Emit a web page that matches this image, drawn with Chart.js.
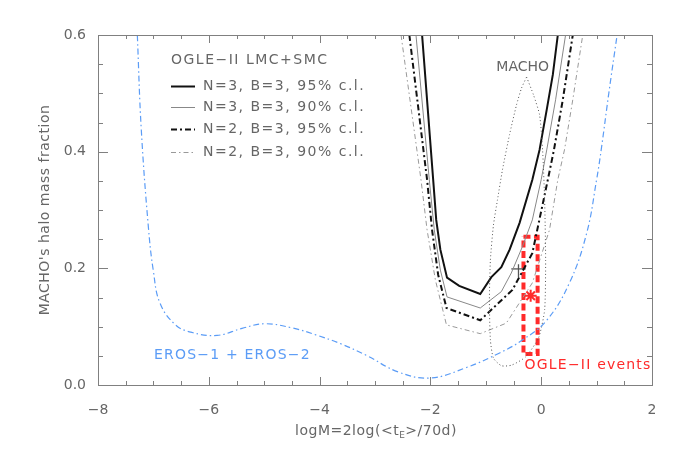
<!DOCTYPE html>
<html lang="en">
<head>
<meta charset="utf-8">
<title>MACHO halo mass fraction</title>
<script src="https://cdn.jsdelivr.net/npm/chart.js"></script>
<style>
  html, body { margin: 0; padding: 0; background: #fff; }
  #wrap { width: 681px; height: 454px; }
</style>
</head>
<body>
<div id="wrap"><canvas id="massChart"></canvas></div>
<script>
// values: x = logM, y = halo mass fraction
const n3b3_95_x = [-2.15, -1.95, -1.895, -1.82, -1.70, -1.48, -1.10, -0.90, -0.72, -0.57, -0.39, -0.16, -0.03, 0.10, 0.21, 0.30];
const n3b3_95_y = [0.60, 0.352, 0.283, 0.232, 0.184, 0.170, 0.156, 0.185, 0.202, 0.232, 0.278, 0.352, 0.403, 0.472, 0.532, 0.60];

const n3b3_90_x = [-2.26, -2.02, -1.93, -1.82, -1.70, -1.10, -0.72, -0.54, -0.34, -0.16, 0.00, 0.10, 0.26, 0.44];
const n3b3_90_y = [0.60, 0.352, 0.266, 0.197, 0.151, 0.132, 0.160, 0.192, 0.237, 0.283, 0.352, 0.403, 0.489, 0.60];

const n2b3_95_x = [-2.38, -2.06, -1.97, -1.86, -1.71, -1.10, -0.90, -0.52, -0.16, 0.12, 0.23, 0.39, 0.57];
const n2b3_95_y = [0.60, 0.352, 0.266, 0.189, 0.132, 0.111, 0.129, 0.163, 0.226, 0.352, 0.403, 0.489, 0.60];

const n2b3_90_x = [-2.53, -2.17, -2.06, -1.91, -1.71, -1.10, -0.63, -0.16, 0.15, 0.30, 0.42, 0.57, 0.75];
const n2b3_90_y = [0.60, 0.352, 0.266, 0.180, 0.103, 0.088, 0.106, 0.175, 0.266, 0.352, 0.403, 0.489, 0.60];

const eros_x = [-7.29, -7.22, -7.09, -7.00, -6.88, -6.60, -6.30, -5.85, -5.40, -5.00, -4.50, -4.07, -3.60, -3.16, -2.57, -2.00, -1.35, -0.75, -0.34, 0.10, 0.51, 0.82, 1.00, 1.09, 1.22, 1.37];
const eros_y = [0.60, 0.44, 0.27, 0.195, 0.14, 0.103, 0.09, 0.085, 0.097, 0.105, 0.098, 0.086, 0.07, 0.051, 0.022, 0.012, 0.03, 0.055, 0.077, 0.111, 0.175, 0.26, 0.352, 0.408, 0.50, 0.60];

// MACHO contour, traced clockwise from the top
const macho_x = [-0.264, -0.138, -0.029, 0.025, 0.062, 0.080, 0.062, -0.047, -0.283, -0.536, -0.717, -0.862, -0.917, -0.935, -0.917, -0.862, -0.790, -0.699, -0.572, -0.446, -0.355, -0.264];
const macho_y = [0.528, 0.497, 0.463, 0.403, 0.317, 0.214, 0.129, 0.081, 0.048, 0.034, 0.033, 0.046, 0.077, 0.146, 0.214, 0.274, 0.317, 0.369, 0.429, 0.480, 0.509, 0.528];

// OGLE-II events box and best estimate
const ogleBox_x = [-0.32, -0.065, -0.065, -0.32, -0.32];
const ogleBox_y = [0.254, 0.254, 0.053, 0.053, 0.254];
const ogleBest_x = [-0.19];
const ogleBest_y = [0.153];

// MACHO point with error cross
const crossH_x = [-0.54, -0.28];
const crossH_y = [0.199, 0.199];
const crossV_x = [-0.41, -0.41];
const crossV_y = [0.185, 0.207];

const xTicks = [-8, -6, -4, -2, 0, 2];
const yTicks = [0.0, 0.2, 0.4, 0.6];

const legendTitle = 'OGLE\u2212II LMC+SMC';
const legendLabels = ['N=3, B=3, 95% c.l.', 'N=3, B=3, 90% c.l.', 'N=2, B=3, 95% c.l.', 'N=2, B=3, 90% c.l.'];

const FONT = "'DejaVu Sans', sans-serif";
const TXT = '#666';
const AX = '#808080';

function pts(xs, ys) {
    return xs.map((x, i) => ({ x: x, y: ys[i] }));
}

function line(label, xs, ys, color, width, dash, tension) {
    return {
        label: label,
        data: pts(xs, ys),
        showLine: true,
        borderColor: color,
        backgroundColor: color,
        borderWidth: width,
        borderDash: dash || [],
        pointRadius: 0,
        tension: tension || 0,
        fill: false
    };
}

const datasets = [
    line('EROS', eros_x, eros_y, '#5b9cf6', 1.2, [6, 3, 1.5, 3], 0.4),
    line('MACHO', macho_x, macho_y, '#555', 1, [1, 2.5], 0.2),
    line(legendLabels[3], n2b3_90_x, n2b3_90_y, '#999', 1, [5, 3, 1.5, 3]),
    line(legendLabels[2], n2b3_95_x, n2b3_95_y, '#111', 2, [6, 3, 2, 3]),
    line(legendLabels[1], n3b3_90_x, n3b3_90_y, '#888', 1),
    line(legendLabels[0], n3b3_95_x, n3b3_95_y, '#111', 2),
    line('crossH', crossH_x, crossH_y, '#555', 1.3),
    line('crossV', crossV_x, crossV_y, '#555', 1.3),
    line('OGLE box', ogleBox_x, ogleBox_y, '#ff2a2a', 4, [7, 3.5]),
    {
        label: 'OGLE best',
        data: pts(ogleBest_x, ogleBest_y),
        showLine: false,
        pointStyle: 'star',
        pointRadius: 6,
        borderWidth: 2,
        borderColor: '#ff2a2a',
        backgroundColor: '#ff2a2a'
    }
];

// legend line styles, same order as legendLabels
const legendStyles = [
    { color: '#111', width: 2, dash: [] },
    { color: '#888', width: 1, dash: [] },
    { color: '#111', width: 2, dash: [6, 3, 2, 3] },
    { color: '#999', width: 1, dash: [5, 3, 1.5, 3] }
];

const framePlugin = {
    id: 'frame',
    afterDatasetsDraw(chart) {
        const ctx = chart.ctx;
        const a = chart.chartArea;
        const xs = chart.scales.x, ys = chart.scales.y;
        ctx.save();
        ctx.strokeStyle = AX;
        ctx.lineWidth = 1;
        ctx.setLineDash([]);
        ctx.strokeRect(Math.round(a.left) + 0.5, Math.round(a.top) + 0.5,
                       Math.round(a.right - a.left), Math.round(a.bottom - a.top));
        ctx.beginPath();
        // x ticks every 0.5, major at labels
        for (let v = -8; v <= 2.001; v += 0.5) {
            const px = Math.round(xs.getPixelForValue(v)) + 0.5;
            const len = Math.abs(v / 2 - Math.round(v / 2)) < 1e-6 ? 8 : 4;
            ctx.moveTo(px, a.bottom); ctx.lineTo(px, a.bottom - len);
            ctx.moveTo(px, a.top); ctx.lineTo(px, a.top + len);
        }
        // y ticks every 0.05
        for (let i = 0; i <= 12; i++) {
            const v = i * 0.05;
            const py = Math.round(ys.getPixelForValue(v)) + 0.5;
            const len = i % 4 === 0 ? 10 : 5;
            ctx.moveTo(a.left, py); ctx.lineTo(a.left + len, py);
            ctx.moveTo(a.right, py); ctx.lineTo(a.right - len, py);
        }
        ctx.stroke();

        // texts inside the plot
        ctx.textBaseline = 'middle';
        ctx.textAlign = 'left';
        ctx.font = '14px ' + FONT;
        ctx.letterSpacing = '1.5px';
        ctx.fillStyle = TXT;
        ctx.fillText(legendTitle, 171, 60);
        legendLabels.forEach((lab, i) => {
            const y = [86, 107, 129, 152][i];
            const s = legendStyles[i];
            ctx.save();
            ctx.strokeStyle = s.color;
            ctx.lineWidth = s.width;
            ctx.setLineDash(s.dash);
            ctx.beginPath();
            ctx.moveTo(171, y + 0.5); ctx.lineTo(195, y + 0.5);
            ctx.stroke();
            ctx.restore();
            ctx.fillText(lab, 203, y);
        });

        ctx.letterSpacing = '0px';
        ctx.fillText('MACHO', xs.getPixelForValue(-0.81), ys.getPixelForValue(0.544));
        ctx.letterSpacing = '1.2px';
        ctx.fillStyle = '#5b9cf6';
        ctx.fillText('EROS\u22121 + EROS\u22122', xs.getPixelForValue(-6.99), ys.getPixelForValue(0.051));
        ctx.fillStyle = '#ff2a2a';
        ctx.fillText('OGLE\u2212II events', xs.getPixelForValue(-0.30), ys.getPixelForValue(0.034));

        // axis titles
        ctx.fillStyle = TXT;
        ctx.letterSpacing = '0.5px';
        ctx.textAlign = 'left';
        const cx = 376, cy = 431;
        const p1 = 'logM=2log(<t', p2 = 'E', p3 = '>/70d)';
        ctx.font = '14px ' + FONT;
        const w1 = ctx.measureText(p1).width, w3 = ctx.measureText(p3).width;
        ctx.font = '9px ' + FONT;
        const w2 = ctx.measureText(p2).width;
        let x0 = cx - (w1 + w2 + w3) / 2;
        ctx.font = '14px ' + FONT;
        ctx.fillText(p1, x0, cy);
        ctx.font = '9px ' + FONT;
        ctx.fillText(p2, x0 + w1, cy + 5);
        ctx.font = '14px ' + FONT;
        ctx.fillText(p3, x0 + w1 + w2, cy);

        ctx.translate(45, 210);
        ctx.rotate(-Math.PI / 2);
        ctx.textAlign = 'center';
        ctx.fillText("MACHO's halo mass fraction", 0, 0);
        ctx.restore();
    }
};

new Chart(document.getElementById('massChart'), {
    type: 'scatter',
    data: { datasets: datasets },
    options: {
        responsive: true,
        maintainAspectRatio: false,
        animation: false,
        layout: { padding: { top: 35, right: 29, left: 0, bottom: 0 } },
        plugins: { legend: { display: false }, tooltip: { enabled: false } },
        scales: {
            x: {
                type: 'linear',
                min: -8, max: 2,
                afterFit(scale) { scale.height = 69; },
                afterBuildTicks(scale) { scale.ticks = xTicks.map(v => ({ value: v })); },
                grid: { display: false, drawTicks: false },
                border: { display: false },
                ticks: {
                    padding: 17,
                    color: TXT,
                    font: { family: FONT, size: 14 },
                    callback: v => String(v).replace('-', '\u2212')
                }
            },
            y: {
                type: 'linear',
                min: 0, max: 0.6,
                afterFit(scale) { scale.width = 98; },
                afterBuildTicks(scale) { scale.ticks = yTicks.map(v => ({ value: v })); },
                grid: { display: false, drawTicks: false },
                border: { display: false },
                ticks: {
                    padding: 12,
                    color: TXT,
                    font: { family: FONT, size: 14 },
                    callback: v => Number(v).toFixed(1)
                }
            }
        }
    },
    plugins: [framePlugin]
});
</script>
</body>
</html>
